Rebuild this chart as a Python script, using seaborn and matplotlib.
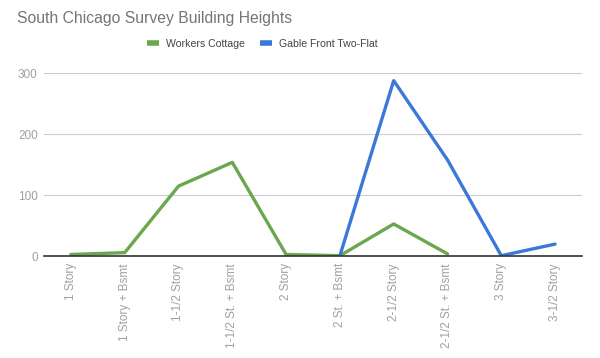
import matplotlib
matplotlib.use("Agg")
import matplotlib.pyplot as plt
import numpy as np
import pandas as pd
import seaborn as sns
from matplotlib.lines import Line2D

categories = [
    "1 Story", "1 Story + Bsmt", "1-1/2 Story", "1-1/2 St. + Bsmt", "2 Story",
    "2 St. + Bsmt", "2-1/2 Story", "2-1/2 St. + Bsmt", "3 Story", "3-1/2 Story",
]
workers_cottage = [3, 6, 115, 154, 3, 1, 53, 4, np.nan, np.nan]
gable_front = [np.nan, np.nan, np.nan, np.nan, np.nan, 1, 288, 158, 1, 20]

series_names = ["Workers Cottage", "Gable Front Two-Flat"]
colors = ["#6aa84f", "#3c78d8"]

df = pd.DataFrame({
    "pos": list(range(len(categories))) * 2,
    "count": workers_cottage + gable_front,
    "series": [series_names[0]] * len(categories) + [series_names[1]] * len(categories),
}).dropna()

sns.set_style("white")
plt.rcParams["font.family"] = ["Liberation Sans", "DejaVu Sans"]

fig = plt.figure(figsize=(6, 3.58), dpi=100)
ax = fig.add_axes([44 / 600, 101.7 / 358, 538 / 600, 183 / 358])

sns.lineplot(data=df, x="pos", y="count", hue="series", palette=colors,
             hue_order=series_names, linewidth=2.4, legend=False, ax=ax)

ax.set_xlim(-0.5, len(categories) - 0.5)
ax.set_ylim(0, 300)
ax.set_yticks([0, 100, 200, 300])
ax.set_xticks(range(len(categories)))
ax.set_xticklabels(categories, rotation=90, ha="center", va="top")
ax.tick_params(axis="x", colors="#a0a0a0", labelsize=8.5, length=0, pad=5)
ax.tick_params(axis="y", colors="#a0a0a0", labelsize=8.5, length=0, pad=4.5)
ax.set_xlabel("")
ax.set_ylabel("")
ax.grid(axis="y", color="#cccccc", linewidth=0.8)
ax.set_axisbelow(True)
for side in ["top", "right", "left"]:
    ax.spines[side].set_visible(False)
ax.spines["bottom"].set_color("#333333")
ax.spines["bottom"].set_linewidth(1.2)

fig.text(17 / 600, 1 - 18 / 358, "South Chicago Survey Building Heights",
         fontsize=11.3, color="#757575", va="center", ha="left")

handles = [Line2D([0], [0], color=c, linewidth=4, solid_capstyle="butt") for c in colors]
fig.legend(handles, series_names, loc="center", bbox_to_anchor=(262 / 600, 1 - 44 / 358),
           ncol=2, frameon=False, fontsize=7.6, handlelength=1.15, columnspacing=1.4,
           handletextpad=0.65, labelcolor="#444444", borderpad=0, borderaxespad=0)

fig.savefig("out.png", dpi=100)
